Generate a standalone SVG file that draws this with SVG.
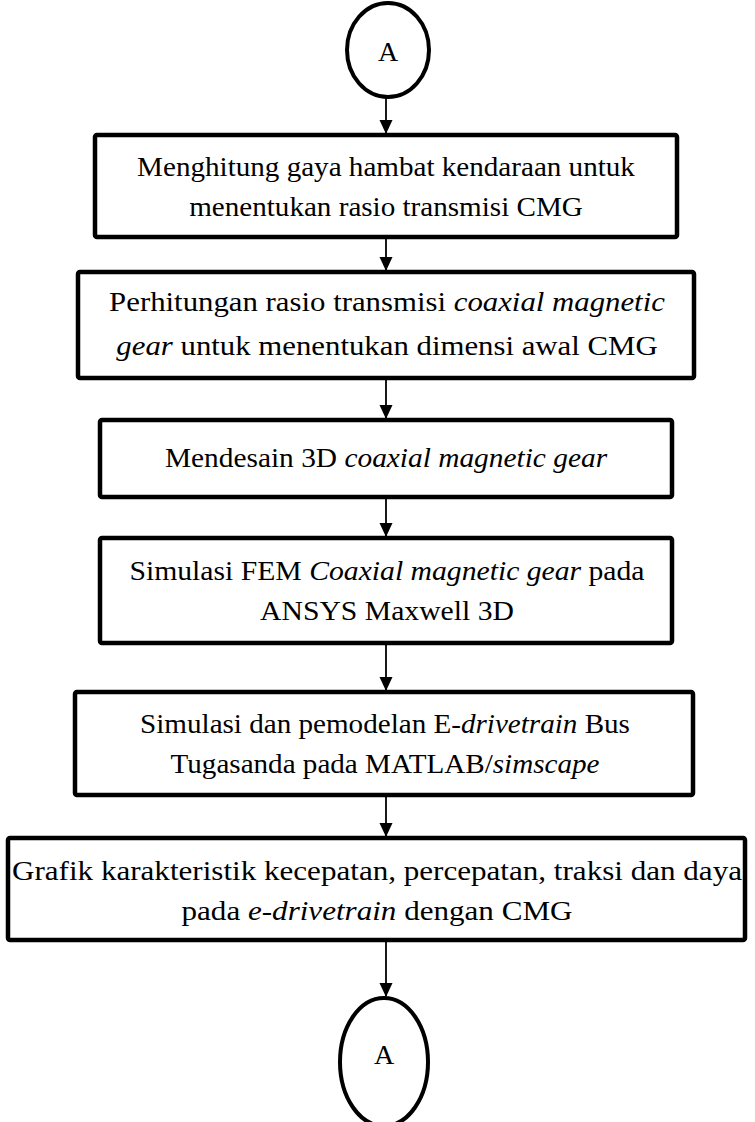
<svg xmlns="http://www.w3.org/2000/svg" width="755" height="1122" viewBox="0 0 755 1122">
<defs>
<marker id="ah" markerWidth="14" markerHeight="14" refX="13" refY="7" orient="auto" markerUnits="userSpaceOnUse">
<path d="M0,0.5 L14,7 L0,13.5 Z" fill="#000"/>
</marker>
<style>
.box{fill:#fff;stroke:#000;stroke-width:4.5}
.term{fill:#fff;stroke:#000;stroke-width:4}
.t{font-family:"Liberation Serif","Times New Roman",serif;font-size:28px;fill:#000;text-anchor:middle}
.i{font-style:italic}
.c{stroke:#000;stroke-width:1.8;fill:none;marker-end:url(#ah)}
</style>
</defs>
<rect width="755" height="1122" fill="#fff"/>
<g id="connectors">
<line class="c" x1="386" y1="98" x2="386" y2="133"/>
<line class="c" x1="386" y1="239" x2="386" y2="270"/>
<line class="c" x1="386" y1="380" x2="386" y2="418"/>
<line class="c" x1="386" y1="499" x2="386" y2="536"/>
<line class="c" x1="386" y1="645" x2="386" y2="690"/>
<line class="c" x1="386" y1="797" x2="386" y2="836"/>
<line class="c" x1="386" y1="942" x2="386" y2="996"/>
</g>
<g id="startA">
<ellipse class="term" cx="388" cy="50" rx="41" ry="47"/>
<text class="t" x="388" y="61">A</text>
</g>
<g id="step1">
<rect class="box" x="95" y="135" width="582" height="102" rx="2"/>
<g transform="translate(386 0) scale(1.04 1)">
<text class="t" x="0" y="176">Menghitung gaya hambat kendaraan untuk</text>
<text class="t" x="0" y="216">menentukan rasio transmisi CMG</text>
</g>
</g>
<g id="step2">
<rect class="box" x="78" y="272" width="616" height="106" rx="2"/>
<g transform="translate(387 0) scale(1.1 1)">
<text class="t" x="0" y="311">Perhitungan rasio transmisi <tspan class="i">coaxial magnetic</tspan></text>
<text class="t" x="0" y="355"><tspan class="i">gear</tspan> untuk menentukan dimensi awal CMG</text>
</g>
</g>
<g id="step3">
<rect class="box" x="100" y="420" width="572" height="77" rx="2"/>
<g transform="translate(386 0) scale(1.05 1)">
<text class="t" x="0" y="467">Mendesain 3D <tspan class="i">coaxial magnetic gear</tspan></text>
</g>
</g>
<g id="step4">
<rect class="box" x="100" y="538" width="572" height="105" rx="2"/>
<g transform="translate(387 0) scale(1.06 1)">
<text class="t" x="0" y="580">Simulasi FEM <tspan class="i">Coaxial magnetic gear</tspan> pada</text>
<text class="t" x="0" y="620">ANSYS Maxwell 3D</text>
</g>
</g>
<g id="step5">
<rect class="box" x="75" y="692" width="618" height="103" rx="2"/>
<g transform="translate(385 0) scale(1.04 1)">
<text class="t" x="0" y="733">Simulasi dan pemodelan E-<tspan class="i">drivetrain</tspan> Bus</text>
<text class="t" x="0" y="773">Tugasanda pada MATLAB/<tspan class="i">simscape</tspan></text>
</g>
</g>
<g id="step6">
<rect class="box" x="8" y="838" width="737" height="102" rx="2"/>
<g transform="translate(377 0) scale(1.11 1)">
<text class="t" x="0" y="880">Grafik karakteristik kecepatan, percepatan, traksi dan daya</text>
<text class="t" x="0" y="920">pada <tspan class="i">e-drivetrain</tspan> dengan CMG</text>
</g>
</g>
<g id="endA">
<ellipse class="term" cx="384" cy="1062" rx="44" ry="64"/>
<text class="t" x="384" y="1064">A</text>
</g>
</svg>
